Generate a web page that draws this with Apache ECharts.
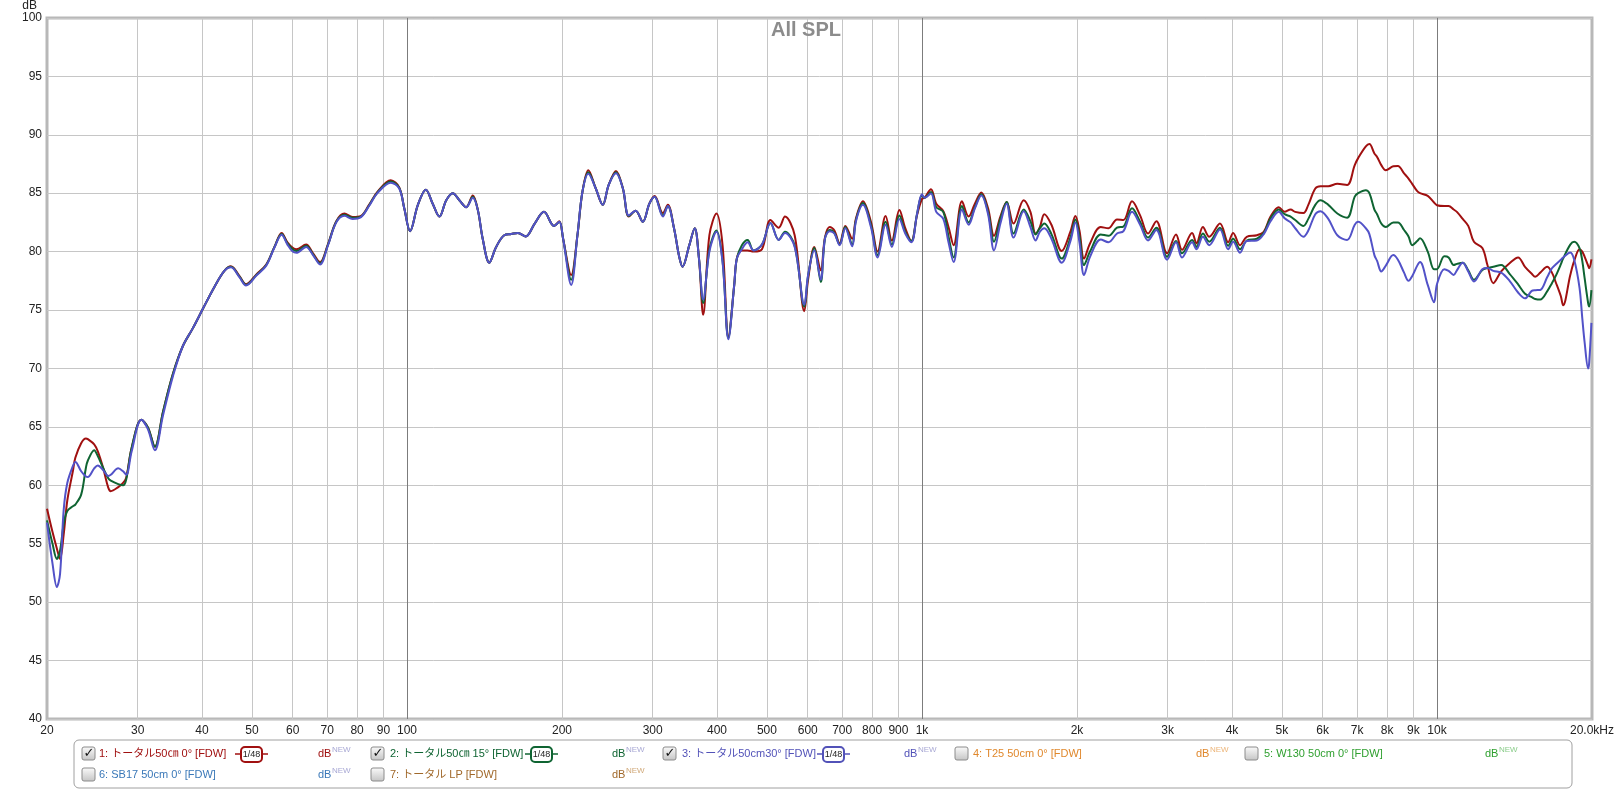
<!DOCTYPE html>
<html>
<head>
<meta charset="utf-8">
<title>All SPL</title>
<script src="https://cdn.jsdelivr.net/npm/echarts@6/dist/echarts.min.js"></script>
<style>
  html, body { margin: 0; padding: 0; background: #fff; }
  #chart { width: 1617px; height: 791px; }
</style>
</head>
<body>
<div id="chart"></div>
<script>
// frequency points (Hz) shared by the three measurements
const freq = [
  20.0, 20.5, 20.9, 21.2, 21.55, 21.9, 22.45, 22.7, 23.3, 23.8, 24.0, 24.7, 25.1, 25.7, 26.3, 26.6, 27.5, 28.1, 28.5, 29.2,
  30.5, 31.4, 32.4, 33.6, 35.1, 36.7, 38.4, 40.2, 42.3, 44.2, 45.5, 47.3, 48.7, 51.0, 53.3, 55.3, 57.1, 58.6, 60.0, 61.0,
  63.7, 65.6, 67.8, 70.2, 72.9, 75.6, 78.4, 81.4, 84.4, 87.6, 93.0, 96.6, 98.8, 101.4, 105, 108.8, 112.2, 115.6, 119.2, 122.7,
  126.4, 130.3, 134.2, 137.3, 140.3, 144.5, 149, 154.5, 159.4, 164.2, 170, 177, 184.5, 193, 197.6, 201, 208.4, 214.3, 219.1, 225,
  232.6, 240, 246.4, 254.6, 262.6, 269.6, 278, 287, 295.6, 302.6, 314, 321, 330, 337.8, 342.8, 353.4, 362, 369, 376, 386.6,
  399, 410, 420.8, 432, 437, 447, 458.6, 471, 489, 508, 527, 542, 566, 591, 601, 618, 636, 648, 662, 676,
  692, 710, 732, 744.5, 768, 796, 820, 850, 874, 904, 928, 954, 978, 1000, 1012, 1041, 1066, 1100, 1126, 1152,
  1196, 1232, 1267, 1304, 1344, 1380, 1420, 1460, 1506, 1576, 1624, 1662, 1694, 1728, 1784, 1868, 1942, 1986, 2022, 2064,
  2120, 2224, 2302, 2392, 2462, 2558, 2652, 2748, 2852, 2992, 3114, 3198, 3346, 3412, 3512, 3612, 3790, 3932, 4020, 4146,
  4272, 4470, 4610, 4752, 4930, 5060, 5198, 5306, 5504, 5626, 5804, 5940, 6152, 6406, 6690, 6924, 7030, 7276, 7392, 7560,
  7652, 7796, 7956, 8226, 8398, 8632, 8806, 8950, 9156, 9272, 9596, 9870, 10000, 10334, 10534, 10774, 10932, 11220, 11502, 11798,
  12250, 12532, 12866, 13326, 13836, 14372, 14824, 15278, 15516, 15870, 16366, 16720, 17000, 17396, 17576, 18150, 18472, 18916, 19150, 19356,
  19658, 19752, 19950
];

// 1: トータル50cm 0°
const spl0deg = [
  58.0, 56.0, 54.6, 53.7, 55.8, 58.7, 61.2, 62.35, 63.6, 64.0, 63.95, 63.5, 62.9, 61.5, 59.8, 59.5, 59.85, 60.2, 60.65, 63.2,
  65.6, 64.95, 63.3, 66.3, 69.5, 71.9, 73.45, 75.15, 77.0, 78.35, 78.75, 77.9, 77.2, 78.05, 78.9, 80.4, 81.6, 80.8, 80.33, 80.2,
  80.6, 79.9, 79.1, 80.6, 82.6, 83.26, 82.97, 83.06, 84.0, 85.1, 86.1, 85.5, 83.7, 81.75, 84.0, 85.3, 84.1, 83.0, 84.4, 85.0,
  84.4, 83.8, 84.8, 83.55, 81.1, 79.05, 80.4, 81.4, 81.5, 81.6, 81.3, 82.4, 83.4, 82.2, 82.6, 81.1, 78.0, 81.4, 85.1, 86.96,
  85.4, 84.0, 85.7, 86.9, 85.4, 83.0, 83.5, 82.55, 84.1, 84.75, 83.3, 84.0, 82.0, 79.55, 78.7, 80.55, 82.0, 79.4, 74.6, 81.4,
  83.25, 80.55, 72.7, 77.15, 79.4, 80.1, 80.1, 80.0, 80.2, 82.7, 82.05, 83.0, 81.4, 74.9, 77.6, 80.4, 78.4, 81.2, 82.1, 81.8,
  80.7, 82.2, 81.1, 82.85, 84.3, 82.55, 80.0, 83.04, 80.95, 83.55, 82.0, 80.9, 83.1, 84.5, 84.6, 85.34, 84.1, 83.46, 82.1, 80.55,
  84.3, 83.0, 84.1, 85.05, 83.7, 81.35, 83.0, 84.25, 82.4, 84.4, 83.4, 81.55, 82.1, 83.2, 82.3, 80.05, 81.7, 83.04, 81.8, 79.4,
  80.7, 82.1, 82.0, 82.75, 82.7, 84.3, 83.1, 81.55, 82.6, 79.85, 81.47, 80.15, 81.6, 80.7, 82.1, 81.27, 82.4, 80.8, 81.6, 80.55,
  81.27, 81.4, 81.7, 83.0, 83.8, 83.4, 83.6, 83.4, 83.3, 84.0, 85.4, 85.6, 85.6, 85.8, 85.7, 87.4, 88.0, 89.0, 89.2, 88.4,
  88.1, 87.4, 86.96, 87.3, 87.33, 86.7, 86.25, 85.8, 85.17, 85.0, 84.77, 84.2, 83.97, 83.9, 83.9, 83.6, 83.4, 82.8, 82.2, 80.85,
  80.3, 78.85, 77.3, 78.3, 79.0, 79.5, 78.7, 78.1, 77.85, 78.2, 78.7, 78.2, 77.4, 76.2, 75.4, 78.0, 79.2, 80.2, 80.0, 79.55,
  78.8, 78.57, 79.33
];

// 2: トータル50cm 15°
const spl15deg = [
  57.0, 55.0, 53.7, 54.4, 56.7, 57.8, 58.2, 58.35, 59.2, 61.5, 62.1, 63.0, 62.5, 61.5, 60.6, 60.4, 60.1, 60.0, 60.5, 63.2,
  65.6, 64.95, 63.3, 66.3, 69.5, 71.9, 73.45, 75.15, 77.0, 78.35, 78.7, 77.85, 77.15, 78.0, 78.85, 80.4, 81.5, 80.7, 80.2, 80.05,
  80.5, 79.8, 79.0, 80.55, 82.55, 83.15, 82.9, 83.0, 83.95, 85.05, 86.0, 85.45, 83.7, 81.75, 84.0, 85.3, 84.1, 83.0, 84.4, 85.0,
  84.4, 83.8, 84.7, 83.55, 81.1, 79.05, 80.4, 81.4, 81.5, 81.6, 81.3, 82.4, 83.4, 82.2, 82.55, 81.1, 77.6, 81.4, 85.1, 86.8,
  85.4, 84.0, 85.7, 86.8, 85.4, 83.05, 83.5, 82.55, 84.1, 84.7, 83.1, 83.9, 82.0, 79.55, 78.7, 80.55, 82.0, 79.4, 75.6, 80.2,
  81.8, 79.2, 72.6, 77.15, 79.4, 80.55, 81.0, 80.1, 80.6, 82.45, 81.0, 81.7, 80.5, 75.3, 77.9, 80.3, 77.4, 81.1, 81.85, 81.6,
  80.6, 82.1, 80.6, 82.7, 84.15, 82.3, 79.7, 82.55, 80.6, 83.1, 81.7, 80.9, 83.2, 84.8, 84.6, 85.1, 83.8, 83.4, 81.3, 79.5,
  83.9, 82.5, 83.8, 84.9, 83.4, 80.85, 82.8, 84.25, 81.55, 83.6, 82.6, 81.47, 82.0, 82.4, 81.5, 79.4, 81.2, 82.75, 81.3, 78.85,
  80.0, 81.47, 81.35, 82.05, 82.15, 83.7, 82.55, 81.2, 82.05, 79.55, 80.9, 79.85, 81.0, 80.4, 81.55, 80.85, 82.05, 80.5, 81.1, 80.2,
  80.95, 81.1, 81.6, 82.85, 83.6, 83.2, 83.0, 82.7, 82.2, 82.8, 84.0, 84.4, 84.0, 83.26, 82.9, 84.7, 85.0, 85.25, 85.0, 83.6,
  83.2, 82.4, 82.1, 82.5, 82.5, 81.85, 81.3, 80.55, 80.9, 81.15, 80.0, 78.5, 78.5, 79.6, 79.5, 78.85, 78.95, 79.05, 78.4, 77.6,
  78.43, 78.6, 78.7, 78.85, 78.1, 77.2, 76.4, 76.1, 75.95, 75.9, 76.6, 77.3, 77.9, 78.9, 79.4, 80.6, 80.85, 80.3, 79.2, 77.7,
  75.6, 75.3, 76.7
];

// 3: トータル50cm 30°
const spl30deg = [
  56.8, 53.3, 51.3, 52.4, 57.9, 60.2, 61.65, 62.0, 61.2, 60.75, 60.7, 61.45, 61.7, 61.3, 60.8, 60.9, 61.45, 61.2, 60.9, 62.9,
  65.6, 64.8, 63.0, 66.0, 69.3, 71.9, 73.45, 75.15, 77.0, 78.35, 78.65, 77.8, 77.1, 77.95, 78.8, 80.35, 81.45, 80.6, 80.0, 79.9,
  80.4, 79.75, 78.9, 80.5, 82.5, 83.06, 82.8, 82.95, 83.9, 85.0, 85.9, 85.4, 83.7, 81.75, 84.0, 85.3, 84.1, 83.0, 84.4, 85.0,
  84.4, 83.8, 84.6, 83.55, 81.1, 79.05, 80.4, 81.4, 81.5, 81.6, 81.3, 82.4, 83.4, 82.2, 82.55, 81.1, 77.15, 81.4, 85.1, 86.67,
  85.4, 84.0, 85.7, 86.7, 85.4, 83.1, 83.5, 82.55, 84.1, 84.7, 83.0, 83.9, 82.0, 79.55, 78.7, 80.55, 82.0, 79.4, 75.9, 80.0,
  81.7, 79.1, 72.5, 77.15, 79.4, 80.2, 80.8, 80.1, 80.6, 82.45, 81.0, 81.6, 80.4, 75.45, 78.0, 80.1, 77.6, 81.1, 81.75, 81.55,
  80.55, 82.0, 80.45, 82.6, 84.0, 82.1, 79.5, 82.3, 80.4, 82.8, 81.55, 80.8, 83.2, 84.9, 84.6, 84.97, 83.4, 82.8, 80.8, 79.1,
  83.6, 82.3, 83.7, 84.8, 83.2, 80.1, 82.4, 84.1, 81.2, 83.46, 82.1, 80.95, 81.7, 82.0, 81.1, 79.05, 80.9, 82.5, 80.8, 78.0,
  79.55, 81.04, 80.8, 81.55, 81.75, 83.4, 82.3, 80.95, 81.85, 79.3, 80.8, 79.5, 80.8, 80.2, 81.27, 80.55, 81.9, 80.2, 80.85, 79.9,
  80.9, 80.95, 81.5, 82.6, 83.4, 82.85, 82.5, 82.0, 81.27, 81.8, 83.2, 83.46, 82.8, 81.4, 81.0, 82.3, 82.55, 82.0, 81.5, 79.7,
  79.2, 78.3, 78.8, 79.7, 79.3, 78.2, 77.5, 77.9, 78.8, 79.1, 77.15, 75.67, 77.2, 78.5, 78.35, 78.0, 78.4, 79.05, 78.3, 77.45,
  78.5, 78.6, 78.35, 78.2, 77.5, 76.5, 76.0, 76.64, 76.7, 76.72, 77.8, 78.57, 78.9, 79.3, 79.5, 79.93, 79.3, 76.9, 74.3, 72.2,
  70.0, 70.5, 73.9
];

// axis labels and grid positions
const xLabelValues = [20, 30, 40, 50, 60, 70, 80, 90, 100, 200, 300, 400, 500, 600, 700, 800, 900,
  1000, 2000, 3000, 4000, 5000, 6000, 7000, 8000, 9000, 10000, 20000];
const xMinorLines = [30, 40, 50, 60, 70, 80, 90, 200, 300, 400, 500, 600, 700, 800, 900,
  2000, 3000, 4000, 5000, 6000, 7000, 8000, 9000];
const xDecadeLines = [100, 1000, 10000];

const legendItems = [
  { label: '1: トータル50㎝ 0° [FDW]', color: '#a01010', newColor: '#a8a8d4', checked: true, badge: true },
  { label: '2: トータル50㎝ 15° [FDW]', color: '#0f6432', newColor: '#a8a8d4', checked: true, badge: true },
  { label: '3: トータル50cm30° [FDW]', color: '#5252b8', newColor: '#a8a8d4', checked: true, badge: true },
  { label: '4: T25 50cm 0° [FDW]', color: '#e0882c', newColor: '#ecb478', checked: false, badge: false },
  { label: '5: W130 50cm 0° [FDW]', color: '#30a030', newColor: '#8acc8a', checked: false, badge: false },
  { label: '6: SB17 50cm 0° [FDW]', color: '#3a78b8', newColor: '#a8a8d4', checked: false, badge: false },
  { label: '7: トータル LP [FDW]', color: '#a0682a', newColor: '#d0a878', checked: false, badge: false }
];
const legendSlots = [
  { row: 0, cb: 82, text: 99, badge: 241, db: 318 },
  { row: 0, cb: 371, text: 390, badge: 531, db: 612 },
  { row: 0, cb: 663, text: 682, badge: 823, db: 904 },
  { row: 0, cb: 955, text: 973, db: 1196 },
  { row: 0, cb: 1245, text: 1264, db: 1485 },
  { row: 1, cb: 82, text: 99, db: 318 },
  { row: 1, cb: 371, text: 390, db: 612 }
];

const seriesColors = ['#a01010', '#0f6432', '#5252c8'];
const seriesNames = ['1: トータル50㎝ 0° [FDW]', '2: トータル50㎝ 15° [FDW]', '3: トータル50cm30° [FDW]'];
const seriesValues = [spl0deg, spl15deg, spl30deg];

const FONT = "'Liberation Sans', Arial, 'Noto Sans CJK JP', sans-serif";

function buildLegend() {
  const els = [];
  els.push({
    type: 'rect', z: 10,
    shape: { x: 74, y: 740, width: 1498, height: 48, r: 5 },
    style: { fill: '#fff', stroke: '#a0a0a0', lineWidth: 1 }
  });
  legendItems.forEach((it, i) => {
    const s = legendSlots[i];
    const yc = s.row === 0 ? 754 : 775;
    els.push({
      type: 'rect', z: 11,
      shape: { x: s.cb, y: yc - 7, width: 13, height: 13, r: 2 },
      style: {
        fill: new echarts.graphic.LinearGradient(0, 0, 0, 1, [
          { offset: 0, color: '#fbfbfb' }, { offset: 1, color: '#c4c4c4' }
        ]),
        stroke: '#8c8c8c', lineWidth: 1
      }
    });
    if (it.checked) {
      els.push({
        type: 'text', z: 12, x: s.cb + 7, y: yc,
        style: { text: '✓', fill: '#111', font: "bold 13px 'DejaVu Sans'", align: 'center', verticalAlign: 'middle' }
      });
    }
    els.push({
      type: 'text', z: 12, x: s.text, y: yc,
      style: { text: it.label, fill: it.color, font: '11px ' + FONT, verticalAlign: 'middle' }
    });
    if (it.badge) {
      els.push({
        type: 'line', z: 11,
        shape: { x1: s.badge - 6, y1: yc, x2: s.badge + 27, y2: yc },
        style: { stroke: it.color, lineWidth: 1.5 }
      });
      els.push({
        type: 'rect', z: 12,
        shape: { x: s.badge, y: yc - 7, width: 21, height: 15, r: 4 },
        style: { fill: '#fff', stroke: it.color, lineWidth: 2 }
      });
      els.push({
        type: 'text', z: 13, x: s.badge + 10.5, y: yc + 0.5,
        style: { text: '1/48', fill: '#222', font: '9px ' + FONT, align: 'center', verticalAlign: 'middle' }
      });
    }
    els.push({
      type: 'text', z: 12, x: s.db, y: yc,
      style: { text: 'dB', fill: it.color, font: '11px ' + FONT, verticalAlign: 'middle' }
    });
    els.push({
      type: 'text', z: 12, x: s.db + 14, y: yc - 4,
      style: { text: 'NEW', fill: it.newColor, font: '8px ' + FONT, verticalAlign: 'middle' }
    });
  });
  return els;
}

const chart = echarts.init(document.getElementById('chart'), null, { renderer: 'canvas' });

const option = {
  animation: false,
  backgroundColor: '#fff',
  title: {
    text: 'All SPL',
    left: 766,
    top: 15,
    textStyle: { color: '#8c8c8c', fontSize: 20, fontWeight: 'bold', fontFamily: FONT }
  },
  grid: {
    left: 47, right: 22, top: 15, bottom: 72,
    show: true, borderColor: '#b8b8b8', borderWidth: 3, backgroundColor: '#fff'
  },
  xAxis: [
    {
      type: 'log', logBase: 10, min: 20, max: 20000,
      axisLine: { show: false },
      axisTick: { show: false, customValues: xMinorLines },
      axisLabel: {
        customValues: xLabelValues,
        color: '#222', fontSize: 12, fontFamily: FONT, margin: 6,
        formatter: v => v >= 20000 ? '20.0kHz' : (v >= 1000 ? (v / 1000) + 'k' : String(v))
      },
      splitLine: { show: true, lineStyle: { color: '#c6c6c6', width: 1 } }
    },
    {
      type: 'log', logBase: 10, min: 20, max: 20000,
      axisLine: { show: false },
      axisTick: { show: false, customValues: xDecadeLines },
      axisLabel: { show: false },
      splitLine: { show: true, lineStyle: { color: '#7c7c7c', width: 1 } }
    }
  ],
  yAxis: {
    type: 'value', min: 40, max: 100, interval: 5,
    name: 'dB', nameLocation: 'end', nameGap: 2,
    nameTextStyle: { color: '#222', fontSize: 12, fontFamily: FONT, align: 'right', verticalAlign: 'bottom', padding: [0, 10, 0, 0] },
    axisLine: { show: false },
    axisTick: { show: false },
    axisLabel: { color: '#222', fontSize: 12, fontFamily: FONT, margin: 5 },
    splitLine: { show: true, lineStyle: { color: '#c6c6c6', width: 1 } }
  },
  series: seriesValues.map((vals, k) => ({
    name: seriesNames[k],
    type: 'line',
    xAxisIndex: 0,
    data: freq.map((f, i) => [f, vals[i]]),
    showSymbol: false,
    smooth: 0.35,
    z: 3 + k,
    lineStyle: { color: seriesColors[k], width: 2 },
    itemStyle: { color: seriesColors[k] }
  })),
  graphic: buildLegend()
};

chart.setOption(option);
</script>
</body>
</html>
